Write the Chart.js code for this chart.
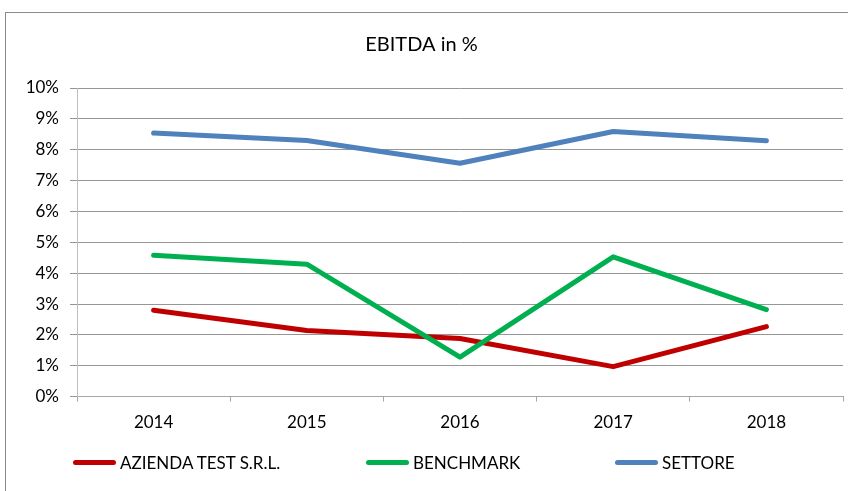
<!DOCTYPE html>
<html>
<head>
<meta charset="utf-8">
<script src="https://cdn.jsdelivr.net/npm/chart.js@4.4.1/dist/chart.umd.min.js"></script>
<style>
  html, body { margin: 0; padding: 0; background: #fff; }
  #wrap { position: relative; width: 848px; height: 491px; overflow: hidden; }
  #frame { position: absolute; left: 5px; top: 12px; width: 900px; height: 600px; border: 1px solid #8c8c8c; }
  #chart { position: absolute; left: 0; top: 0; }
  #legend { position: absolute; top: 451px; left: 0; width: 848px; height: 22px; font-family: Lato, sans-serif; font-size: 17px; color: #000; }
  .item { position: absolute; top: 0; display: flex; align-items: center; height: 22px; white-space: nowrap; }
  .swatch { display: inline-block; width: 43px; height: 5px; border-radius: 3px; margin-right: 4px; }
</style>
</head>
<body>
<div id="wrap">
  <div id="frame"></div>
  <canvas id="chart" width="848" height="491"></canvas>
  <div id="legend"></div>
</div>
<script>
// Chart data
const years = ['2014', '2015', '2016', '2017', '2018'];
const azienda = [2.80, 2.14, 1.88, 0.97, 2.27];
const benchmark = [4.58, 4.29, 1.28, 4.53, 2.82];
const settore = [8.54, 8.30, 7.56, 8.59, 8.29];
const yTicks = ['0%', '1%', '2%', '3%', '4%', '5%', '6%', '7%', '8%', '9%', '10%'];

const seriesNames = ['AZIENDA TEST S.R.L.', 'BENCHMARK', 'SETTORE'];
const seriesColors = ['#C00000', '#00B050', '#4F81BD'];
const legendLeft = [73, 366, 615];

const FONT = 'Lato, sans-serif';

function lineSet(label, data, color, order) {
    return {
        label: label,
        data: data,
        borderColor: color,
        backgroundColor: color,
        borderWidth: 5,
        borderCapStyle: 'round',
        borderJoinStyle: 'round',
        pointRadius: 0,
        pointHoverRadius: 0,
        tension: 0,
        fill: false,
        order: order
    };
}

const ctx = document.getElementById('chart').getContext('2d');
new Chart(ctx, {
    type: 'line',
    data: {
        labels: years,
        datasets: [
            lineSet(seriesNames[0], azienda, seriesColors[0], 3),
            lineSet(seriesNames[1], benchmark, seriesColors[1], 2),
            lineSet(seriesNames[2], settore, seriesColors[2], 1)
        ]
    },
    options: {
        responsive: false,
        animation: false,
        layout: { padding: { left: 0, right: 5, top: 0, bottom: 47 } },
        plugins: {
            legend: { display: false },
            tooltip: { enabled: false },
            title: {
                display: true,
                text: 'EBITDA in %',
                color: '#000',
                font: { family: FONT, size: 20, weight: 'normal', lineHeight: 1.2 },
                padding: { top: 33, bottom: 31 }
            }
        },
        scales: {
            x: {
                offset: true,
                grid: {
                    offset: true,
                    drawOnChartArea: false,
                    drawTicks: true,
                    tickLength: 5,
                    color: '#a6a6a6'
                },
                border: { color: '#a6a6a6', width: 1 },
                ticks: {
                    color: '#000',
                    font: { family: FONT, size: 17, lineHeight: 1.2 },
                    padding: 11,
                    maxRotation: 0
                }
            },
            y: {
                min: 0,
                max: 10,
                afterFit: (scale) => { scale.width = 77; },
                grid: {
                    color: '#969696',
                    lineWidth: 1,
                    drawTicks: true,
                    tickLength: 7
                },
                border: { color: '#bfbfbf', width: 1 },
                ticks: {
                    stepSize: 1,
                    color: '#000',
                    font: { family: FONT, size: 17 },
                    padding: 11,
                    callback: (value) => yTicks[value]
                }
            }
        }
    }
});

// HTML legend built from the series arrays
const legend = document.getElementById('legend');
seriesNames.forEach((name, i) => {
    const item = document.createElement('div');
    item.className = 'item';
    item.style.left = legendLeft[i] + 'px';
    const sw = document.createElement('span');
    sw.className = 'swatch';
    sw.style.background = seriesColors[i];
    item.appendChild(sw);
    item.appendChild(document.createTextNode(name));
    legend.appendChild(item);
});
</script>
</body>
</html>
